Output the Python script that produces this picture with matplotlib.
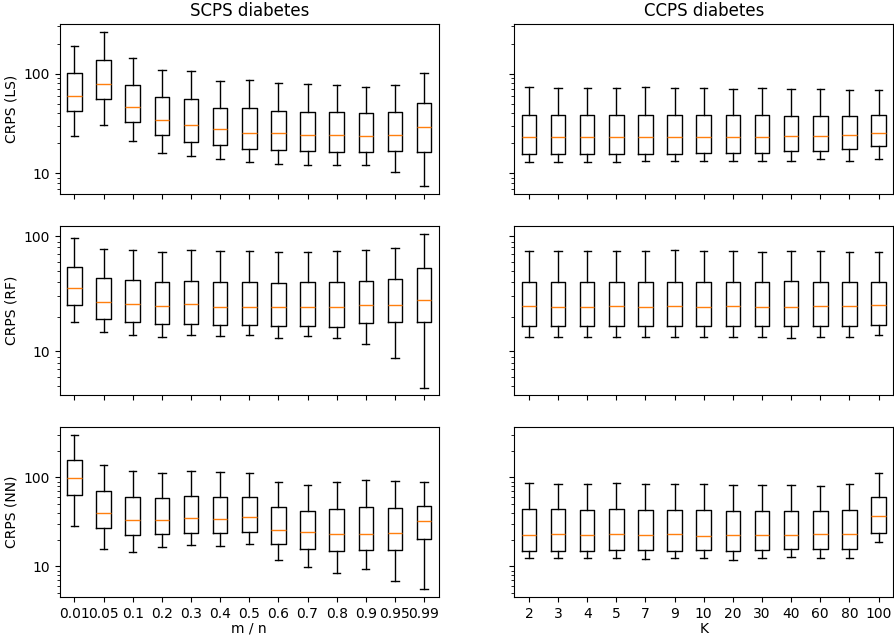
import matplotlib
matplotlib.use("Agg")
import matplotlib.pyplot as plt
from matplotlib.ticker import ScalarFormatter, NullFormatter

mn_labels = ["0.01", "0.05", "0.1", "0.2", "0.3", "0.4", "0.5",
             "0.6", "0.7", "0.8", "0.9", "0.95", "0.99"]
k_labels = ["2", "3", "4", "5", "7", "9", "10", "20", "30", "40", "60", "80", "100"]

# SCPS, LS
scps_ls_hi = [192, 263, 144, 109, 106, 84, 86, 81, 78, 76.7, 74, 76.7, 101]
scps_ls_q3 = [101, 138, 77.4, 58, 55.4, 45.4, 45, 42.6, 41.3, 41, 40, 41.3, 50.9]
scps_ls_med = [60, 79.8, 46.4, 34.3, 30.3, 27.8, 25.1, 25.5, 24.2, 24.4, 23.8, 24.2, 29.4]
scps_ls_q1 = [41.9, 55.4, 33.0, 24.2, 20.6, 19.2, 17.5, 17.2, 16.7, 16.4, 16.4, 16.8, 16.4]
scps_ls_lo = [23.7, 30.3, 21.2, 16.0, 14.9, 13.8, 13.1, 12.3, 12.1, 12.1, 12.2, 10.3, 7.45]

# CCPS, LS
ccps_ls_hi = [72.8, 72.2, 71.7, 72.2, 72.8, 71.7, 71.7, 71.1, 71.7, 69.5, 70.0, 67.9, 68.9]
ccps_ls_q3 = [38.2, 38.2, 38.2, 38.2, 38.2, 38.2, 38.2, 38.2, 38.2, 37.9, 37.6, 37.6, 38.8]
ccps_ls_med = [23.3, 23.1, 23.3, 23.3, 23.3, 23.1, 23.3, 23.1, 23.3, 23.6, 23.8, 24.2, 25.2]
ccps_ls_q1 = [15.6, 15.6, 15.6, 15.6, 15.7, 15.7, 15.9, 16.0, 16.0, 16.6, 16.8, 17.6, 18.6]
ccps_ls_lo = [13.1, 13.0, 13.1, 12.9, 13.3, 13.3, 13.2, 13.4, 13.4, 13.4, 13.8, 13.4, 14.0]

# SCPS, RF
scps_rf_hi = [96.7, 78.1, 76.5, 73.6, 76.5, 74.1, 74.5, 73.6, 73.6, 75.0, 75.5, 78.7, 105.5]
scps_rf_q3 = [53.8, 43.1, 42.0, 40.1, 41.1, 40.3, 40.1, 39.5, 39.8, 40.1, 40.9, 42.3, 53.1]
scps_rf_med = [35.8, 26.9, 25.6, 24.8, 25.6, 24.3, 24.3, 24.5, 24.5, 24.3, 25.3, 25.1, 28.1]
scps_rf_q1 = [25.1, 19.2, 18.1, 17.4, 17.2, 16.9, 16.8, 16.7, 16.7, 16.3, 17.8, 18.0, 17.9]
scps_rf_lo = [17.9, 14.7, 13.9, 13.4, 13.8, 13.5, 13.9, 13.2, 13.6, 13.1, 11.7, 8.75, 4.86]

# CCPS, RF
ccps_rf_hi = [75.0, 74.5, 74.5, 75.0, 75.0, 75.5, 75.0, 74.5, 73.1, 74.5, 74.5, 73.6, 73.6]
ccps_rf_q3 = [40.3, 40.3, 40.3, 40.3, 40.3, 40.3, 40.3, 40.1, 39.8, 40.6, 39.8, 39.8, 40.3]
ccps_rf_med = [25.0, 24.5, 24.5, 24.6, 24.5, 24.6, 24.5, 25.0, 24.5, 24.5, 24.8, 24.8, 25.3]
ccps_rf_q1 = [16.7, 16.7, 16.7, 16.6, 16.6, 16.7, 16.6, 16.6, 16.7, 16.5, 16.6, 16.7, 16.9]
ccps_rf_lo = [13.3, 13.4, 13.4, 13.3, 13.3, 13.4, 13.3, 13.3, 13.4, 13.2, 13.4, 13.3, 13.8]

# SCPS, NN
scps_nn_hi = [299, 136.4, 118.8, 110.9, 116.8, 114.8, 112.8, 88.6, 82.0, 88.6, 93.3, 91.0, 88.6]
scps_nn_q3 = [156.6, 70.8, 60.6, 58.6, 61.2, 59.6, 59.6, 46.0, 42.2, 44.5, 46.0, 45.6, 48.0]
scps_nn_med = [98.3, 39.7, 32.9, 32.9, 34.6, 34.3, 36.1, 25.6, 24.1, 23.3, 22.9, 23.5, 32.6]
scps_nn_q1 = [63.3, 27.2, 22.3, 23.3, 23.7, 23.5, 24.3, 18.0, 15.7, 15.0, 15.5, 15.4, 20.1]
scps_nn_lo = [28.6, 15.9, 14.5, 16.6, 17.4, 17.1, 18.0, 11.8, 9.9, 8.34, 9.25, 6.84, 5.56]

# CCPS, NN
ccps_nn_hi = [85.6, 84.9, 84.9, 85.6, 84.9, 84.1, 84.9, 82.0, 82.0, 81.3, 79.9, 84.1, 112.8]
ccps_nn_q3 = [43.7, 43.7, 43.3, 44.1, 43.3, 43.0, 43.3, 42.2, 42.2, 41.8, 41.8, 43.0, 60.1]
ccps_nn_med = [22.3, 22.9, 22.7, 22.9, 22.5, 23.1, 22.1, 22.7, 22.7, 22.7, 23.1, 23.3, 36.5]
ccps_nn_q1 = [15.0, 15.0, 15.1, 15.3, 15.3, 15.0, 15.4, 15.1, 15.5, 15.9, 15.9, 15.7, 23.9]
ccps_nn_lo = [12.5, 12.5, 12.3, 12.5, 12.1, 12.5, 12.3, 11.9, 12.4, 12.7, 12.5, 12.5, 18.6]


def make_stats(lo, q1, med, q3, hi):
    return [dict(whislo=a, q1=b, med=c, q3=d, whishi=e, fliers=[])
            for a, b, c, d, e in zip(lo, q1, med, q3, hi)]


panels = [
    [make_stats(scps_ls_lo, scps_ls_q1, scps_ls_med, scps_ls_q3, scps_ls_hi),
     make_stats(ccps_ls_lo, ccps_ls_q1, ccps_ls_med, ccps_ls_q3, ccps_ls_hi)],
    [make_stats(scps_rf_lo, scps_rf_q1, scps_rf_med, scps_rf_q3, scps_rf_hi),
     make_stats(ccps_rf_lo, ccps_rf_q1, ccps_rf_med, ccps_rf_q3, ccps_rf_hi)],
    [make_stats(scps_nn_lo, scps_nn_q1, scps_nn_med, scps_nn_q3, scps_nn_hi),
     make_stats(ccps_nn_lo, ccps_nn_q1, ccps_nn_med, ccps_nn_q3, ccps_nn_hi)],
]
row_labels = ["CRPS (LS)", "CRPS (RF)", "CRPS (NN)"]

fig, axes = plt.subplots(3, 2, figsize=(8.94, 6.39), dpi=100,
                         sharex='col', sharey='row')
fig.subplots_adjust(left=0.067, right=0.999, top=0.962, bottom=0.066,
                    wspace=0.2, hspace=0.19)

for i in range(3):
    for j in range(2):
        ax = axes[i, j]
        ax.bxp(panels[i][j], showfliers=False)
        ax.set_yscale('log')
        ax.yaxis.set_major_formatter(ScalarFormatter())
        ax.yaxis.set_minor_formatter(NullFormatter())
    axes[i, 0].set_ylabel(row_labels[i])

axes[0, 0].set_title("SCPS diabetes")
axes[0, 1].set_title("CCPS diabetes")
axes[2, 0].set_xticks(range(1, 14), mn_labels)
axes[2, 1].set_xticks(range(1, 14), k_labels)
axes[2, 0].set_xlabel("m / n", labelpad=1)
axes[2, 1].set_xlabel("K", labelpad=1)
# right column keeps ticks but no labels
for i in range(3):
    axes[i, 1].tick_params(labelleft=False)

plt.savefig("out.png", dpi=100)
